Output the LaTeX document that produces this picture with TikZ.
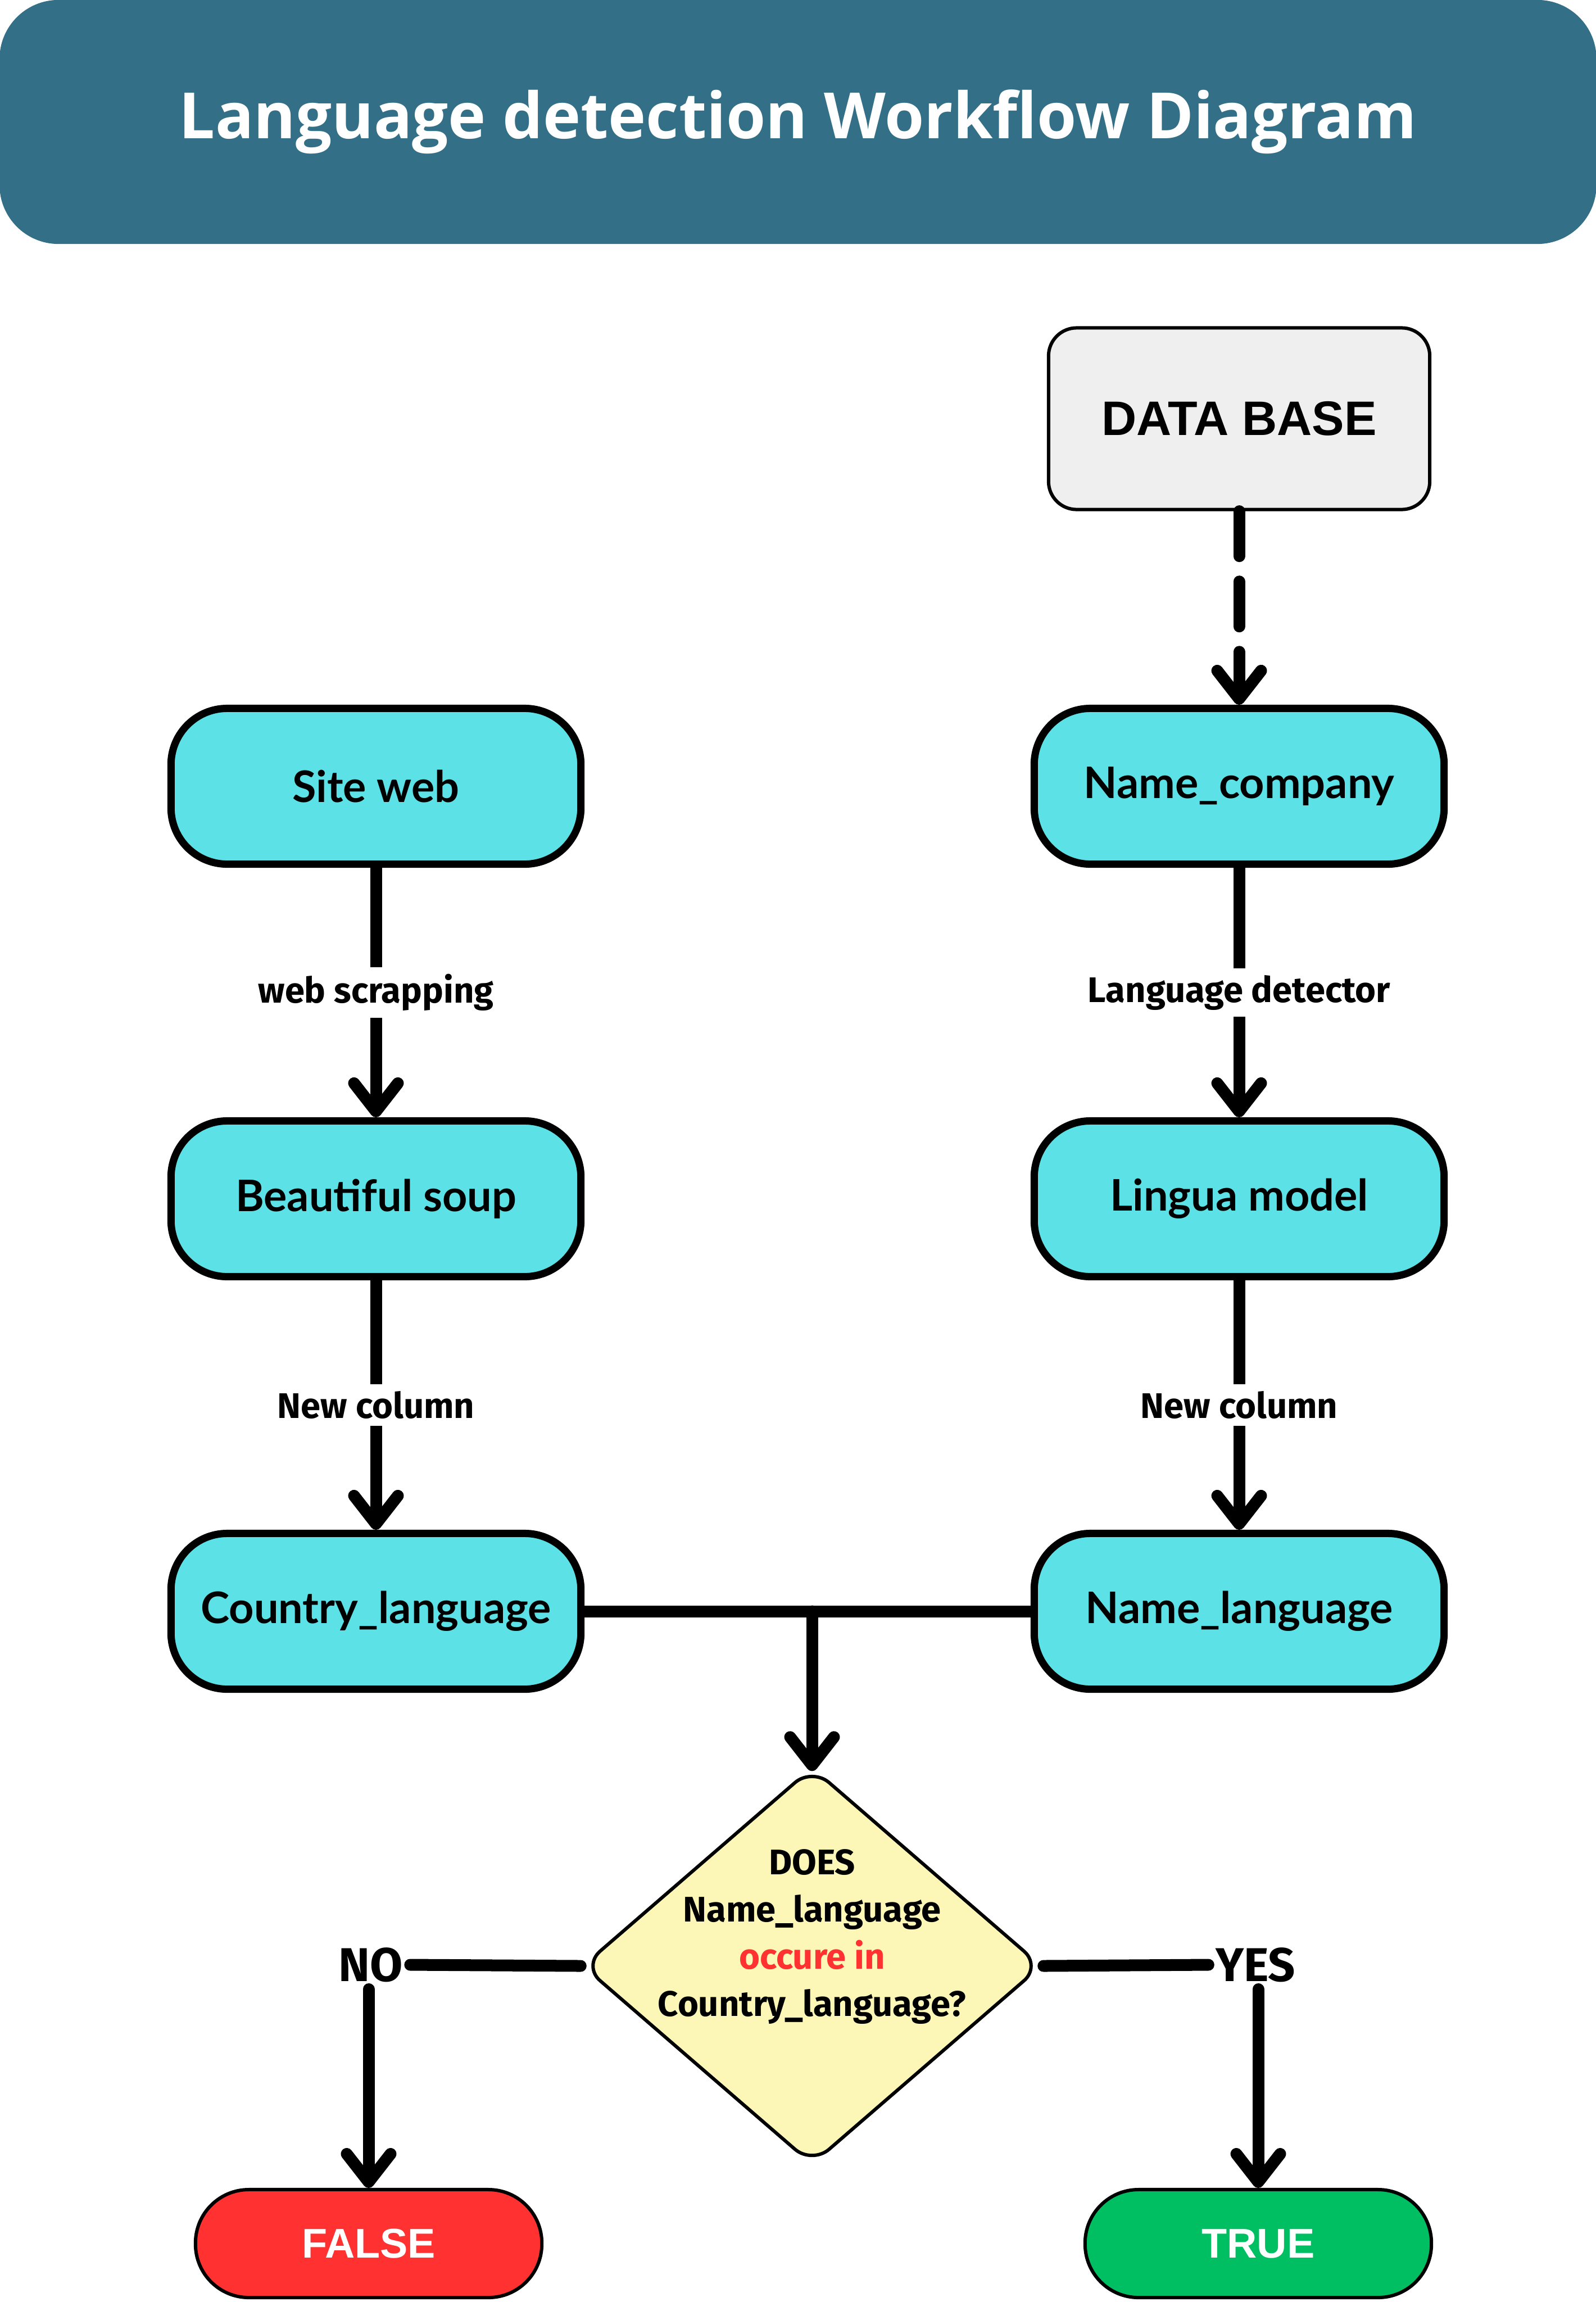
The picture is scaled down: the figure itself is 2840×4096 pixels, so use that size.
\documentclass[tikz,border=0pt]{standalone}
\usepackage{fontspec}
\setmainfont{Open Sans}
\newfontfamily\titlefont{Open Sans}
\newfontfamily\boxfont{Lato}
\newfontfamily\dbfont{Liberation Sans}
\newfontfamily\lblfont{Fira Sans}
\usetikzlibrary{arrows.meta,shapes.geometric}
\definecolor{bannerc}{HTML}{337087}
\definecolor{cyanc}{HTML}{5CE1E6}
\definecolor{dbc}{HTML}{EFEFEF}
\definecolor{diac}{HTML}{FCF7B6}
\definecolor{redc}{HTML}{FF3131}
\definecolor{greenc}{HTML}{00BF63}
\tikzset{
  >={Straight Barb[length=0.5cm,width=0.78cm,line cap=round,line join=round]},
  proc/.style={draw=black, line width=0.13cm, fill=cyanc, rounded corners=1cm,
    minimum width=7.29cm, minimum height=2.77cm, inner sep=0,
    font=\boxfont\bfseries\fontsize{22}{26}\selectfont},
  dbbox/.style={draw=black, line width=0.06cm, fill=dbc, rounded corners=0.5cm,
    minimum width=6.78cm, minimum height=3.23cm, inner sep=0,
    font=\dbfont\bfseries\fontsize{24.5}{29}\selectfont},
  termbox/.style={draw=black, line width=0.06cm, rounded corners=0.95cm,
    minimum width=6.16cm, minimum height=1.92cm, inner sep=0, text=white,
    font=\dbfont\bfseries\fontsize{21}{25}\selectfont},
  decision/.style={diamond, draw=black, line width=0.06cm, fill=diac,
    rounded corners=0.4cm, minimum width=8.17cm, minimum height=7.07cm, inner sep=0},
  dtext/.style={align=center, inner sep=0,
    font=\lblfont\bfseries\fontsize{18}{23.9}\selectfont},
  conn/.style={line width=0.21cm, line cap=round, ->},
  plainline/.style={line width=0.21cm, line cap=round},
  elabel/.style={fill=white, inner sep=0.12cm,
    font=\lblfont\bfseries\fontsize{18}{21}\selectfont},
  yn/.style={inner sep=0.12cm, font=\lblfont\bfseries\fontsize{24}{28}\selectfont},
}
\begin{document}
\begin{tikzpicture}[x=0.01cm,y=-0.01cm]
\path[use as bounding box] (0,0) rectangle (2840,4096);
\fill[white] (0,0) rectangle (2840,4096);
% title banner
\node[fill=bannerc, rounded corners=1.05cm, minimum width=28.4cm, minimum height=4.34cm,
  inner sep=0, text=white, font=\titlefont\bfseries\fontsize{32.3}{40}\selectfont]
  (title) at (1420,217) {Language detection Workflow Diagram};
% nodes
\node[dbbox] (db) at (2205,745) {DATA BASE};
\node[proc] (site) at (669,1399) {Site web};
\node[proc] (namec) at (2205,1399) {Name\_company};
\node[proc] (soup) at (669,2133) {Beautiful soup};
\node[proc] (lingua) at (2205,2133) {Lingua model};
\node[proc] (country) at (669,2867) {Country\_language};
\node[proc] (namel) at (2205,2867) {Name\_language};
\node[decision] (dia) at (1445,3498) {};
\node[dtext] (dtxt) at (1445,3446) {DOES\\Name\_language\\\textcolor{redc}{occure in}\\Country\_language?};
\node[yn] (no) at (660,3496) {NO};
\node[yn] (yes) at (2234,3496) {YES};
\node[termbox, fill=redc] (false) at (656,3992) {FALSE};
\node[termbox, fill=greenc] (true) at (2239,3992) {TRUE};
% connectors
\draw[conn, dash pattern=on 0.8cm off 0.45cm] (db) -- (namec);
\draw[conn] (site) -- node[elabel] (l1) {web scrapping} (soup);
\draw[conn] (namec) -- node[elabel] (l2) {Language detector} (lingua);
\draw[conn] (soup) -- node[elabel] (l3) {New column} (country);
\draw[conn] (lingua) -- node[elabel] (l4) {New column} (namel);
\draw[plainline] (country.east) -- (namel.west);
\coordinate (merge) at (dia.north |- country.east);
\draw[conn, shorten >=-0.1cm] (merge) -- (dia.north);
\draw[plainline] (dia.west) -- (no.east);
\draw[conn] (no.south -| false.north) -- (false.north);
\draw[plainline] (dia.east) -- (yes.west);
\draw[conn] (yes.south -| true.north) -- (true.north);
\end{tikzpicture}
\end{document}
